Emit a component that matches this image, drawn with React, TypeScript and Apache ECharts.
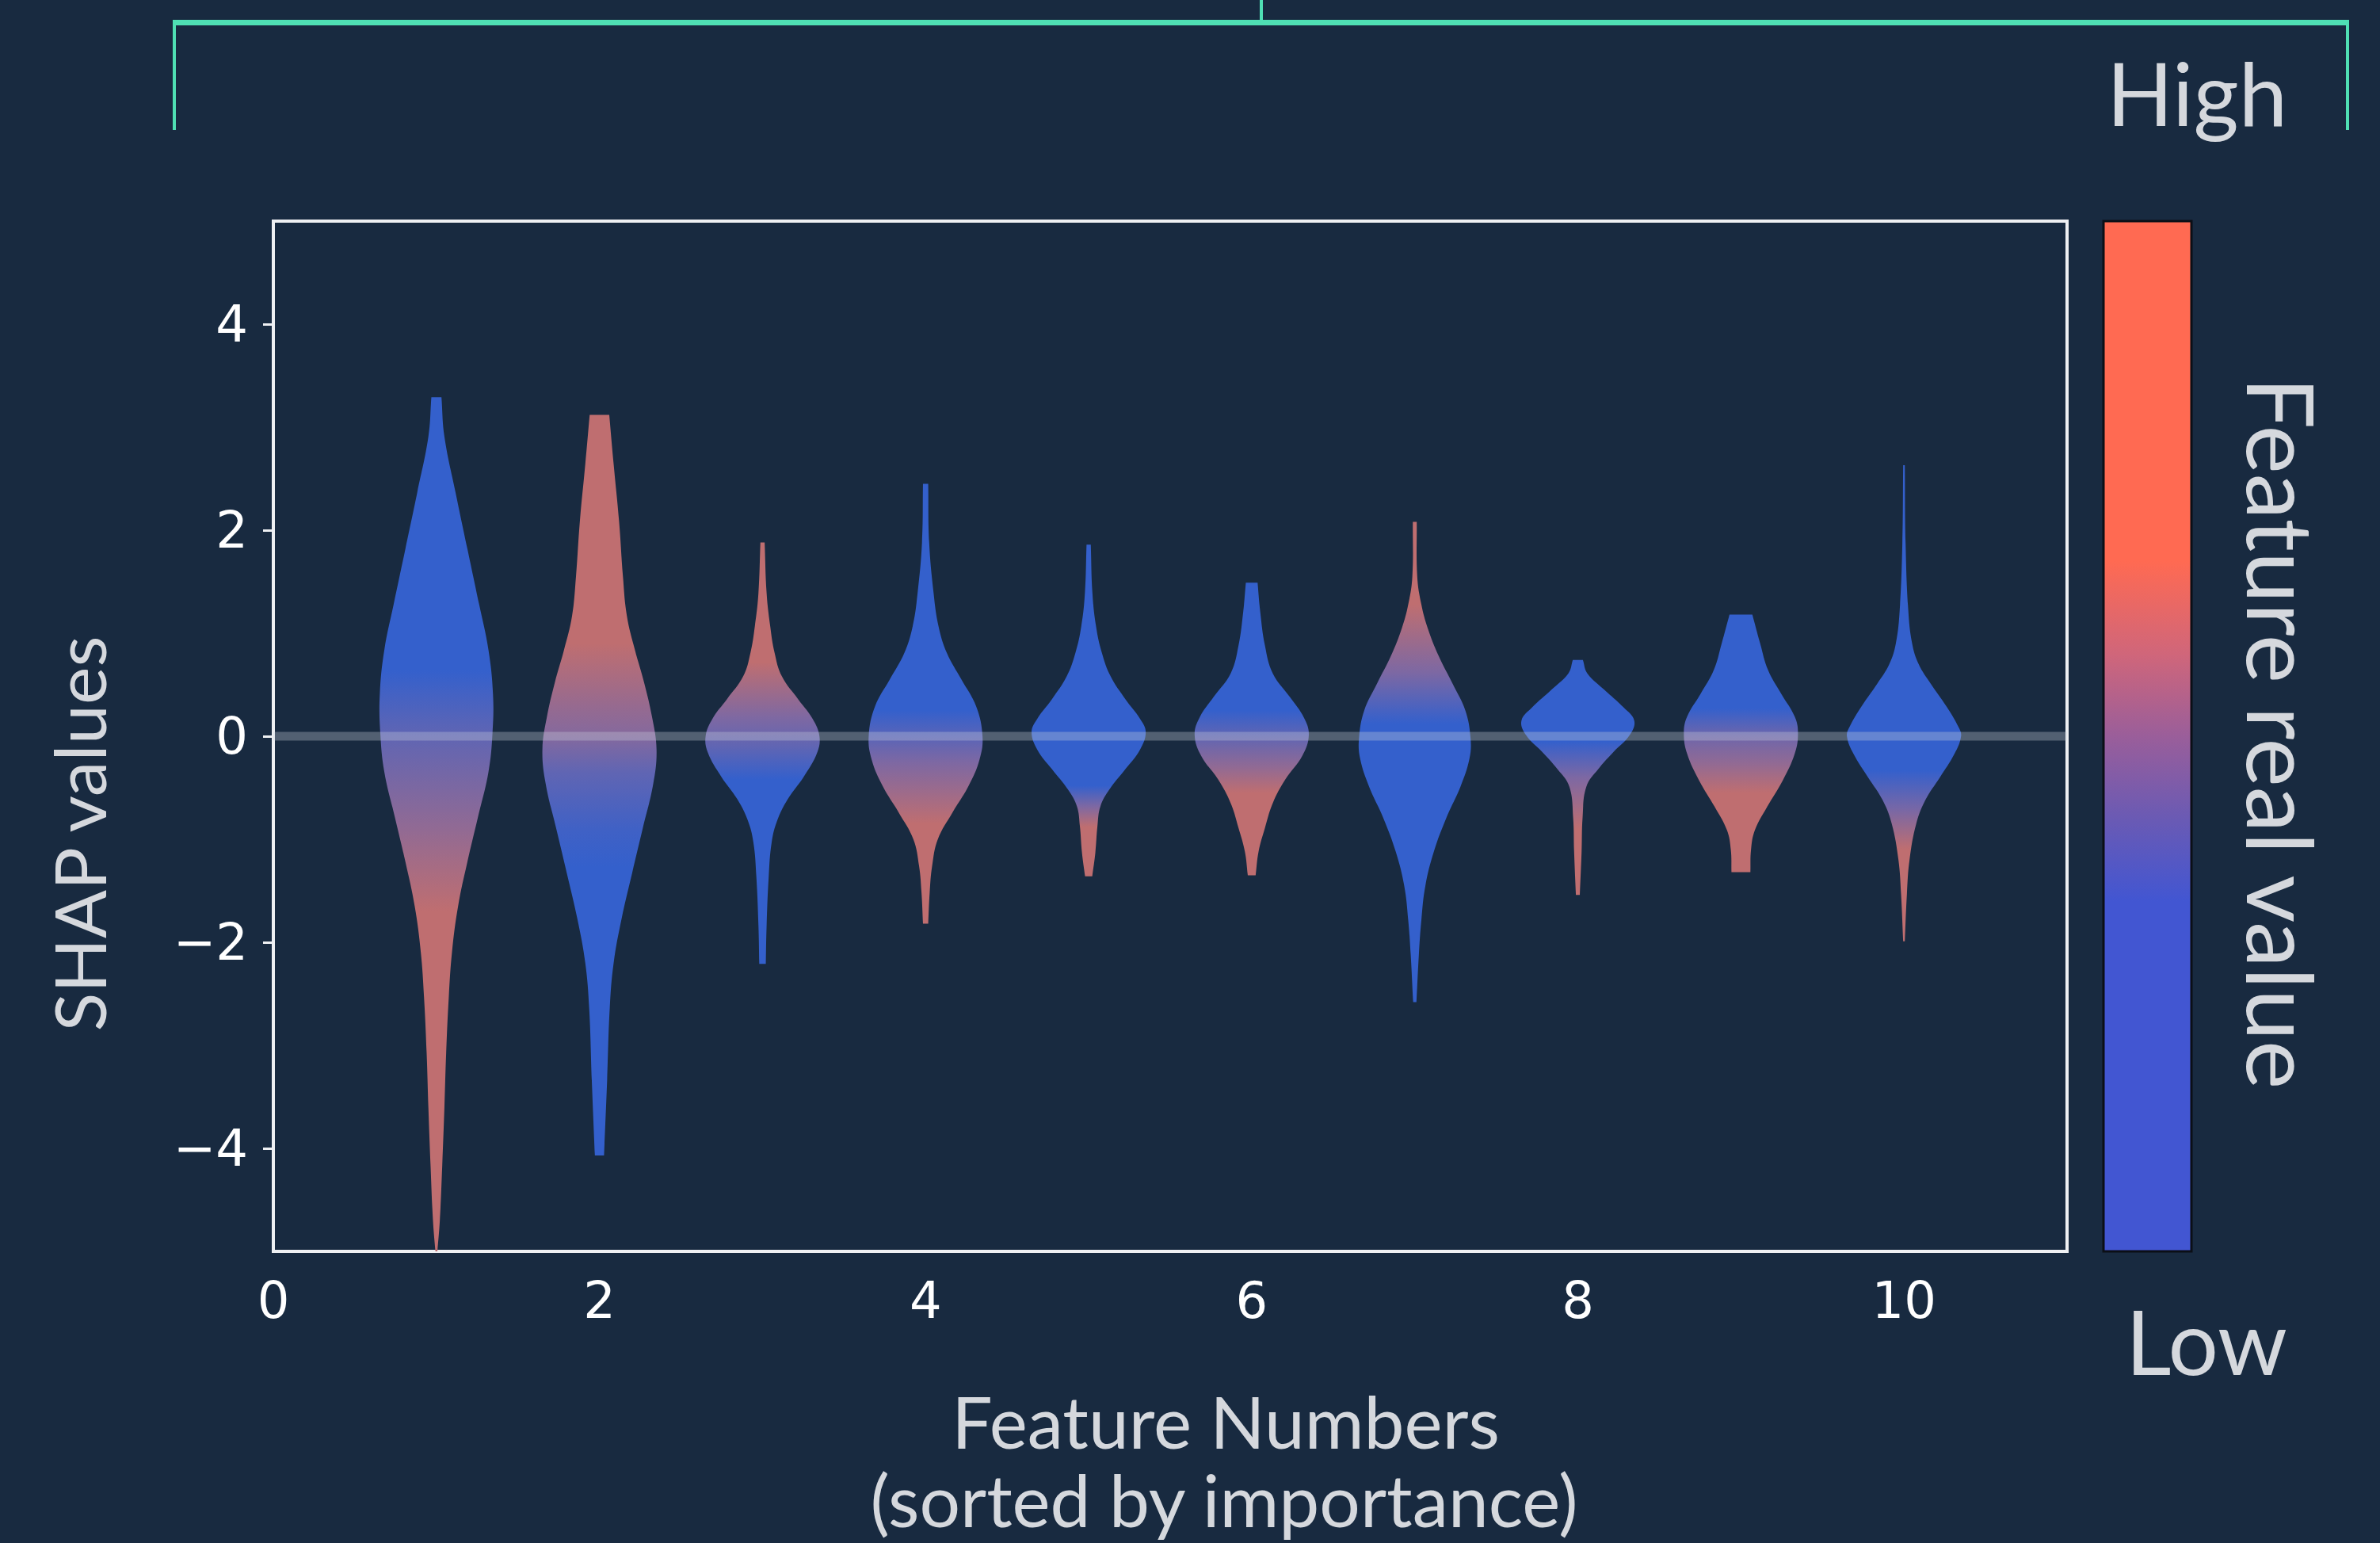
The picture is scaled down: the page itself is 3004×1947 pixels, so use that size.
import React, { useEffect, useRef } from "react";
import * as echarts from "echarts";

// ---------- data ----------
const featureNumbers = [1, 2, 3, 4, 5, 6, 7, 8, 9, 10];
const xTickValues = [0, 2, 4, 6, 8, 10];
const yTickValues = [-4, -2, 0, 2, 4];

// violin outlines: [SHAP value, half width in feature units], top to bottom
const violin1 = [[3.29, 0.031], [2.91, 0.049], [2.37, 0.117], [1.82, 0.19], [1.28, 0.262], [0.84, 0.319], [0.41, 0.347], [0.03, 0.344], [-0.35, 0.319], [-0.79, 0.254], [-1.22, 0.19], [-1.65, 0.133], [-2.09, 0.096], [-2.53, 0.076], [-3.07, 0.06], [-3.61, 0.049], [-4.16, 0.036], [-4.7, 0.021], [-5.0, 0.006]];
const violin2 = [[3.12, 0.06], [2.64, 0.087], [2.09, 0.12], [1.55, 0.144], [1.17, 0.168], [0.84, 0.217], [0.52, 0.274], [0.19, 0.322], [-0.13, 0.35], [-0.46, 0.33], [-0.89, 0.266], [-1.33, 0.2], [-1.77, 0.136], [-2.2, 0.087], [-2.64, 0.063], [-3.34, 0.047], [-4.07, 0.028]];
const violin3 = [[1.88, 0.013], [1.39, 0.025], [1.07, 0.047], [0.81, 0.074], [0.58, 0.119], [0.36, 0.218], [0.17, 0.307], [0.0, 0.349], [-0.16, 0.335], [-0.39, 0.254], [-0.61, 0.155], [-0.81, 0.092], [-1.03, 0.056], [-1.36, 0.038], [-1.84, 0.025], [-2.21, 0.02]];
const violin4 = [[2.45, 0.016], [1.88, 0.022], [1.39, 0.049], [1.07, 0.079], [0.81, 0.13], [0.55, 0.22], [0.29, 0.31], [0.0, 0.349], [-0.23, 0.33], [-0.48, 0.264], [-0.74, 0.165], [-1.0, 0.075], [-1.26, 0.04], [-1.52, 0.025], [-1.82, 0.016]];
const violin5 = [[1.86, 0.013], [1.39, 0.023], [1.07, 0.045], [0.81, 0.081], [0.58, 0.135], [0.36, 0.225], [0.17, 0.315], [0.04, 0.35], [-0.13, 0.315], [-0.32, 0.225], [-0.52, 0.126], [-0.68, 0.072], [-0.87, 0.054], [-1.13, 0.041], [-1.36, 0.022]];
const violin6 = [[1.49, 0.036], [1.21, 0.052], [0.88, 0.081], [0.61, 0.129], [0.38, 0.234], [0.18, 0.32], [0.01, 0.35], [-0.19, 0.31], [-0.42, 0.206], [-0.65, 0.129], [-0.89, 0.081], [-1.12, 0.042], [-1.35, 0.024]];
const violin7 = [[2.08, 0.012], [1.55, 0.015], [1.28, 0.04], [1.05, 0.079], [0.78, 0.146], [0.51, 0.232], [0.25, 0.31], [-0.02, 0.342], [-0.22, 0.335], [-0.49, 0.28], [-0.79, 0.194], [-1.12, 0.117], [-1.45, 0.065], [-1.79, 0.04], [-2.12, 0.025], [-2.58, 0.01]];
const violin8 = [[0.74, 0.031], [0.61, 0.058], [0.45, 0.163], [0.28, 0.28], [0.15, 0.346], [0.01, 0.317], [-0.15, 0.22], [-0.32, 0.125], [-0.49, 0.052], [-0.79, 0.029], [-1.12, 0.023], [-1.54, 0.012]];
const violin9 = [[1.18, 0.07], [0.9, 0.118], [0.64, 0.167], [0.41, 0.248], [0.19, 0.33], [0.03, 0.35], [-0.17, 0.33], [-0.43, 0.256], [-0.69, 0.159], [-0.91, 0.086], [-1.1, 0.062], [-1.32, 0.058]];
const violin10 = [[2.63, 0.005], [1.87, 0.01], [1.23, 0.026], [0.9, 0.05], [0.7, 0.09], [0.51, 0.164], [0.29, 0.26], [0.09, 0.334], [0.0, 0.35], [-0.17, 0.31], [-0.4, 0.22], [-0.62, 0.131], [-0.85, 0.075], [-1.2, 0.034], [-1.53, 0.018], [-1.99, 0.005]];

// colour along each violin: [SHAP value, feature level 0 = low (blue) .. 1 = high (red)]
const shade1 = [[0.64, 0], [0.0, 0.3], [-0.89, 0.65], [-1.7, 1]];
const shade2 = [[0.9, 1], [0.3, 0.7], [0.0, 0.55], [-0.35, 0.3], [-0.9, 0.08], [-1.27, 0]];
const shade3 = [[0.72, 1], [0.17, 0.5], [-0.1, 0.3], [-0.42, 0]];
const shade4 = [[0.25, 0], [0.0, 0.25], [-0.25, 0.5], [-0.55, 0.75], [-0.85, 1]];
const shade5 = [[-0.48, 0], [-0.68, 0.5], [-0.88, 1]];
const shade6 = [[0.25, 0], [0.0, 0.3], [-0.3, 0.65], [-0.55, 1]];
const shade7 = [[1.28, 1], [0.62, 0.5], [0.12, 0]];
const shade8 = [[-0.05, 0], [-0.4, 0.5], [-0.9, 1]];
const shade9 = [[0.27, 0], [0.0, 0.4], [-0.26, 0.65], [-0.55, 1]];
const shade10 = [[-0.33, 0], [-0.7, 0.45], [-1.1, 1]];

const zeroLine = [[0, 0], [11, 0]];

const violins = [violin1, violin2, violin3, violin4, violin5, violin6, violin7, violin8, violin9, violin10];
const shades = [shade1, shade2, shade3, shade4, shade5, shade6, shade7, shade8, shade9, shade10];

// ---------- style ----------
const BG = "#182a40";
const BLUE = [52, 96, 204];
const PURPLE = [125, 104, 163];
const RED = [191, 110, 112];
const TEAL = "#4fdfb4";
const TEXT = "#d5d8dd";
const TITLE_FONT = "Lato, 'Open Sans', sans-serif";
const TICK_FONT = "'DejaVu Sans', sans-serif";

function levelColor(t: number) {
  const a = t < 0.5 ? BLUE : PURPLE;
  const b = t < 0.5 ? PURPLE : RED;
  const k = t < 0.5 ? t / 0.5 : (t - 0.5) / 0.5;
  const c = a.map((v, i) => Math.round(v + (b[i] - v) * k));
  return `rgb(${c[0]},${c[1]},${c[2]})`;
}

function buildOption() {
  const renderItem = (params: any, api: any) => {
    const i = params.dataIndex;
    const cx = api.value(0);
    const prof = violins[i];
    const right = prof.map(([y, w]) => api.coord([cx + w, y]));
    const left = prof
      .slice()
      .reverse()
      .map(([y, w]) => api.coord([cx - w, y]));
    // repeat the end points so the flat ends stay square while the sides are smoothed
    const pts = [right[0], ...right, right[right.length - 1], left[0], ...left, left[left.length - 1]];
    const yTop = api.coord([cx, prof[0][0]])[1];
    const yBot = api.coord([cx, prof[prof.length - 1][0]])[1];
    const stops = shades[i].map(([v, t]) => {
      const py = api.coord([cx, v])[1];
      const off = Math.min(1, Math.max(0, (py - yTop) / (yBot - yTop)));
      return { offset: off, color: levelColor(t) };
    });
    return {
      type: "polygon",
      shape: { points: pts, smooth: 0.4 },
      style: {
        fill: new echarts.graphic.LinearGradient(0, yTop, 0, yBot, stops, true),
      },
    };
  };

  return {
    animation: false,
    backgroundColor: BG,
    grid: {
      left: 345,
      top: 279,
      width: 2264,
      height: 1300,
      show: true,
      borderColor: "#eef0f3",
      borderWidth: 4,
      backgroundColor: "transparent",
    },
    xAxis: {
      type: "value",
      min: 0,
      max: 11,
      axisLine: { show: false },
      splitLine: { show: false },
      axisTick: {
        show: true,
        inside: false,
        length: 13,
        customValues: xTickValues,
        lineStyle: { color: "#eef0f3", width: 3 },
      },
      axisLabel: {
        customValues: xTickValues,
        color: "#ffffff",
        fontSize: 64,
        fontFamily: TICK_FONT,
        margin: 30,
      },
    },
    yAxis: {
      type: "value",
      min: -5,
      max: 5,
      axisLine: { show: false },
      splitLine: { show: false },
      axisTick: {
        show: true,
        inside: false,
        length: 13,
        customValues: yTickValues,
        lineStyle: { color: "#eef0f3", width: 3 },
      },
      axisLabel: {
        customValues: yTickValues,
        color: "#ffffff",
        fontSize: 64,
        fontFamily: TICK_FONT,
        margin: 32,
        formatter: (v: number) => (v < 0 ? "\u2212" + Math.abs(v) : String(v)),
      },
    },
    series: [
      {
        type: "custom",
        renderItem,
        clip: true,
        z: 2,
        data: featureNumbers.map((f, i) => [f, i]),
        encode: { x: 0, y: 1 },
      },
      {
        type: "line",
        data: zeroLine,
        symbol: "none",
        silent: true,
        z: 5,
        lineStyle: { color: "rgba(205,210,220,0.32)", width: 11 },
      },
    ],
    graphic: [
      // bracket
      { type: "line", shape: { x1: 218, y1: 28.5, x2: 2965, y2: 28.5 }, style: { stroke: TEAL, lineWidth: 7 } },
      { type: "line", shape: { x1: 220, y1: 28, x2: 220, y2: 164 }, style: { stroke: TEAL, lineWidth: 4 } },
      { type: "line", shape: { x1: 2963, y1: 28, x2: 2963, y2: 164 }, style: { stroke: TEAL, lineWidth: 4 } },
      { type: "line", shape: { x1: 1592, y1: 0, x2: 1592, y2: 28 }, style: { stroke: TEAL, lineWidth: 4 } },
      // colour bar
      {
        type: "rect",
        shape: { x: 2655, y: 279, width: 111, height: 1300 },
        style: {
          fill: new echarts.graphic.LinearGradient(0, 0, 0, 1, [
            { offset: 0, color: "#ff6a52" },
            { offset: 0.33, color: "#ff6a52" },
            { offset: 0.42, color: "#d0667a" },
            { offset: 0.5, color: "#9a5e9a" },
            { offset: 0.58, color: "#6a5ab4" },
            { offset: 0.66, color: "#4256d2" },
            { offset: 1, color: "#4256d2" },
          ]),
          stroke: "#0b0f16",
          lineWidth: 3,
        },
      },
      {
        type: "text",
        x: 2773,
        y: 116,
        style: { text: "High", fill: TEXT, fontSize: 110, fontFamily: TITLE_FONT, align: "center", verticalAlign: "middle" },
      },
      {
        type: "text",
        x: 2785,
        y: 1691,
        style: { text: "Low", fill: TEXT, fontSize: 112, fontFamily: TITLE_FONT, align: "center", verticalAlign: "middle" },
      },
      {
        type: "text",
        x: 2880,
        y: 925,
        rotation: -Math.PI / 2,
        style: { text: "Feature real value", fill: TEXT, fontSize: 116, fontFamily: TITLE_FONT, align: "center", verticalAlign: "middle" },
      },
      {
        type: "text",
        x: 99,
        y: 1052,
        rotation: Math.PI / 2,
        style: { text: "SHAP values", fill: TEXT, fontSize: 90, fontFamily: TITLE_FONT, align: "center", verticalAlign: "middle" },
      },
      {
        type: "text",
        x: 1547,
        y: 1792,
        style: { text: "Feature Numbers", fill: TEXT, fontSize: 91, fontFamily: TITLE_FONT, align: "center", verticalAlign: "middle" },
      },
      {
        type: "text",
        x: 1545,
        y: 1891,
        style: { text: "(sorted by importance)", fill: TEXT, fontSize: 91, fontFamily: TITLE_FONT, align: "center", verticalAlign: "middle" },
      },
    ],
  };
}

export default function App() {
  const ref = useRef<HTMLDivElement>(null);
  useEffect(() => {
    if (!ref.current) return;
    const chart = echarts.init(ref.current, null, { renderer: "svg", width: 3004, height: 1947 });
    chart.setOption(buildOption() as any);
    return () => chart.dispose();
  }, []);
  return (
    <div
      ref={ref}
      style={{ position: "absolute", left: 0, top: 0, width: 3004, height: 1947, background: BG }}
    />
  );
}
